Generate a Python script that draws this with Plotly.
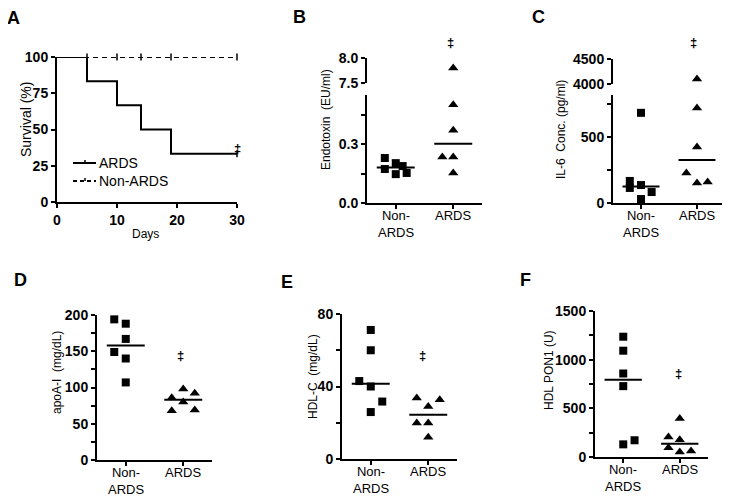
import numpy as np
import plotly.graph_objects as go

# the page body adds an 8px margin, so the figure is drawn 8px smaller and
# all reference pixel positions are shifted by that amount
W, H = 730, 497
OFF = 8
FW, FH = W - OFF, H - OFF
FONT = "Arial, Liberation Sans, sans-serif"

# Panel A - Kaplan-Meier survival
ards_days = [0, 5, 10, 14, 19, 30]
ards_surv = [100, 83.3, 66.7, 50, 33.3, 33.3]
non_days = [0, 30]
non_surv = [100, 100]
non_censor_days = [5, 10, 14, 19, 30]
ards_censor_days = [30]

categories = ["Non-<br>ARDS", "ARDS"]

# Panel B - endotoxin (EU/ml)
endo_non = [0.229, 0.173, 0.203, 0.188, 0.147, 0.153]
endo_non_jit = [-0.19, -0.19, 0, 0.12, 0, 0.19]
endo_ards = [7.8, 0.50, 0.37, 0.234, 0.234, 0.153]
endo_ards_jit = [0, 0, 0, -0.19, 0, 0]

# Panel C - IL-6 (pg/ml)
il6_non = [683, 167, 114, 136, 83, 30]
il6_non_jit = [0, -0.2, -0.2, 0, 0.19, 0]
il6_ards = [4100, 720, 425, 227, 152, 159]
il6_ards_jit = [0, 0, 0, -0.19, 0, 0.19]

# Panel D - apoA-I (mg/dL)
apoa_non = [194, 188, 167, 149, 140, 107]
apoa_non_jit = [-0.2, 0, 0, -0.2, 0, 0]
apoa_ards = [86, 98, 92, 80, 68, 69]
apoa_ards_jit = [-0.2, 0, 0.2, 0, -0.2, 0.2]

# Panel E - HDL-C (mg/dL)
hdlc_non = [71.2, 60, 43, 40, 31.7, 25.9]
hdlc_non_jit = [0, 0, -0.2, 0, 0.2, 0]
hdlc_ards = [33.6, 29, 32.7, 19.8, 19.8, 12]
hdlc_ards_jit = [-0.2, 0, 0.2, -0.2, 0, 0]

# Panel F - HDL PON1 (U)
pon_non = [1236, 1092, 858, 728, 130, 172]
pon_non_jit = [0, 0, 0, 0, 0, 0.2]
pon_ards = [395, 206, 178, 96, 51, 62]
pon_ards_jit = [0, -0.2, 0, -0.2, 0, 0.2]


def px(x):
    return (x - OFF) / FW


def py(y):
    return 1 - (y - OFF) / FH


def xd(a, b):
    return [px(a), px(b)]


def yd(top, bottom):
    return [py(bottom), py(top)]


def bold(labels):
    return ["<b>%s</b>" % t if t else "" for t in labels]


fig = go.Figure()

axis_common = dict(showline=True, linecolor="black", linewidth=2, ticks="outside",
                   ticklen=4, tickwidth=2, tickcolor="black", showgrid=False,
                   zeroline=False, fixedrange=True, automargin=False)
ytick_font = dict(family=FONT, size=14, color="black")
xcat_font = dict(family=FONT, size=13, color="black")

# ---- Panel A
fig.add_trace(go.Scatter(x=non_days, y=non_surv, mode="lines", name="Non-ARDS",
                         line=dict(color="black", width=2, dash="5px,4px"),
                         showlegend=False, xaxis="x", yaxis="y", cliponaxis=False))
fig.add_trace(go.Scatter(x=ards_days, y=ards_surv, mode="lines", name="ARDS",
                         line=dict(color="black", width=2, shape="hv"),
                         showlegend=False, xaxis="x", yaxis="y", cliponaxis=False))
fig.add_trace(go.Scatter(x=non_censor_days, y=[100] * len(non_censor_days), mode="markers",
                         marker=dict(symbol="line-ns", size=5, line=dict(width=1.5, color="black")),
                         showlegend=False, xaxis="x", yaxis="y", cliponaxis=False))
fig.add_trace(go.Scatter(x=ards_censor_days, y=[ards_surv[-1]], mode="markers",
                         marker=dict(symbol="line-ns", size=5, line=dict(width=1.5, color="black")),
                         showlegend=False, xaxis="x", yaxis="y", cliponaxis=False))

fig.update_layout(
    xaxis=dict(domain=xd(57, 237), range=[0, 30], tickvals=[0, 10, 20, 30],
               ticktext=bold(["0", "10", "20", "30"]),
               tickfont=ytick_font, anchor="y", **axis_common),
    yaxis=dict(domain=yd(57, 202), range=[0, 100], tickvals=[0, 25, 50, 75, 100],
               ticktext=bold(["0", "25", "50", "75", "100"]),
               tickfont=ytick_font, anchor="x", **axis_common),
)

ann = []
shapes = []


def dot_panel(xa, ya, non, non_jit, ards, ards_jit, ya_up=None, split=None):
    groups = [(1, non, non_jit, "square", 8), (2, ards, ards_jit, "triangle-up", 9)]
    for cat, vals, jit, sym, size in groups:
        vals = np.array(vals, dtype=float)
        xs = cat + np.array(jit)
        low = vals <= split if split is not None else np.ones(len(vals), bool)
        fig.add_trace(go.Scatter(x=xs[low], y=vals[low], mode="markers",
                                 marker=dict(symbol=sym, size=size, color="black"),
                                 showlegend=False, xaxis=xa, yaxis=ya, cliponaxis=False))
        if ya_up is not None and (~low).any():
            fig.add_trace(go.Scatter(x=xs[~low], y=vals[~low], mode="markers",
                                     marker=dict(symbol=sym, size=size, color="black"),
                                     showlegend=False, xaxis=xa, yaxis=ya_up, cliponaxis=False))
        med = float(np.median(vals))
        fig.add_trace(go.Scatter(x=[cat - 0.33, cat + 0.33], y=[med, med], mode="lines",
                                 line=dict(color="black", width=2),
                                 showlegend=False, xaxis=xa, yaxis=ya, cliponaxis=False))
    # category labels placed just under the axis line
    for cat, lab in zip([1, 2], categories):
        ann.append(dict(text=lab, x=cat, xref=xa, y=0, yref=ya + " domain",
                        xanchor="center", yanchor="top", yshift=-3, showarrow=False,
                        font=xcat_font))


def cat_xaxis(dom, anchor):
    return dict(domain=dom, range=[0.5, 2.5], tickvals=[1, 2], showticklabels=False,
                anchor=anchor, **axis_common)


def yax(dom, rng, vals, text, anchor):
    return dict(domain=dom, range=rng, tickvals=vals, ticktext=bold(text),
                tickfont=ytick_font, anchor=anchor, **axis_common)


# ---- Panel B (broken axis)
dot_panel("x2", "y2", endo_non, endo_non_jit, endo_ards, endo_ards_jit, "y3", 0.55)
# ---- Panel C (broken axis)
dot_panel("x3", "y4", il6_non, il6_non_jit, il6_ards, il6_ards_jit, "y5", 818)
# ---- Panel D
dot_panel("x4", "y6", apoa_non, apoa_non_jit, apoa_ards, apoa_ards_jit)
# ---- Panel E
dot_panel("x5", "y7", hdlc_non, hdlc_non_jit, hdlc_ards, hdlc_ards_jit)
# ---- Panel F
dot_panel("x6", "y8", pon_non, pon_non_jit, pon_ards, pon_ards_jit)

fig.update_layout(
    xaxis2=cat_xaxis(xd(367, 482), "y2"),
    yaxis2=yax(yd(95, 203), [0, 0.55], [0, 0.15, 0.3, 0.45], ["0.0", "", "0.3", ""], "x2"),
    yaxis3=yax(yd(58, 83), [7.5, 8.0], [7.5, 8.0], ["7.5", "8.0"], "x2"),
    xaxis3=cat_xaxis(xd(613, 725), "y4"),
    yaxis4=yax(yd(95, 203), [0, 818], [0, 250, 500, 750], ["0", "", "500", ""], "x3"),
    yaxis5=yax(yd(59, 84), [4000, 4500], [4000, 4500], ["4000", "4500"], "x3"),
    xaxis4=cat_xaxis(xd(97, 212), "y6"),
    yaxis6=yax(yd(315, 460), [0, 200], list(range(0, 201, 25)),
               ["0", "", "50", "", "100", "", "150", "", "200"], "x4"),
    xaxis5=cat_xaxis(xd(342, 457), "y7"),
    yaxis7=yax(yd(314, 459), [0, 80], [0, 20, 40, 60, 80], ["0", "", "40", "", "80"], "x5"),
    xaxis6=cat_xaxis(xd(595, 708), "y8"),
    yaxis8=yax(yd(311, 457), [0, 1500], list(range(0, 1501, 250)),
               ["0", "", "500", "", "1000", "", "1500"], "x6"),
)


def paper_text(txt, x, y, size, angle=0, anchor="center", family=FONT):
    ann.append(dict(text=txt, x=px(x), y=py(y), xref="paper", yref="paper",
                    xanchor=anchor, yanchor="middle", showarrow=False, textangle=angle,
                    font=dict(family=family, size=size, color="black")))


# panel letters
for letter, x, y in [("A", 13, 18), ("B", 299, 17), ("C", 538, 17),
                     ("D", 20, 280), ("E", 287, 282), ("F", 525, 280)]:
    paper_text("<b>%s</b>" % letter, x, y, 18)
# y titles
paper_text("Survival (%)", 26, 120, 14, -90)
for txt, x, y in [("Endotoxin  (EU/ml)", 326, 120), ("IL-6  Conc. (pg/ml)", 561, 130),
                  ("apoA-I  (mg/dL)", 57, 373), ("HDL-C  (mg/dL)", 313, 377),
                  ("HDL PON1 (U)", 549, 370)]:
    paper_text(txt, x, y, 12, -90)
paper_text("Days", 145, 234, 12)
# significance marks
for x, y in [(237, 148), (450, 42), (693, 42), (180, 355), (423, 355), (678, 373)]:
    paper_text("<b>‡</b>", x, y, 13)

# legend of panel A, drawn by hand to match the compact original
for label, y, dash in [("ARDS", 163, "solid"), ("Non-ARDS", 181, "4px,3px")]:
    shapes.append(dict(type="line", xref="paper", yref="paper", x0=px(73), x1=px(96),
                       y0=py(y), y1=py(y), line=dict(color="black", width=2, dash=dash)))
    shapes.append(dict(type="line", xref="paper", yref="paper", x0=px(85), x1=px(85),
                       y0=py(y), y1=py(y - 3), line=dict(color="black", width=1.5)))
    paper_text(label, 97, y, 14, anchor="left")

fig.update_layout(
    width=FW, height=FH, margin=dict(l=0, r=0, t=0, b=0),
    paper_bgcolor="white", plot_bgcolor="white",
    font=dict(family=FONT, color="black"),
    annotations=ann, shapes=shapes,
    showlegend=False,
)

fig.write_html("out.html")
